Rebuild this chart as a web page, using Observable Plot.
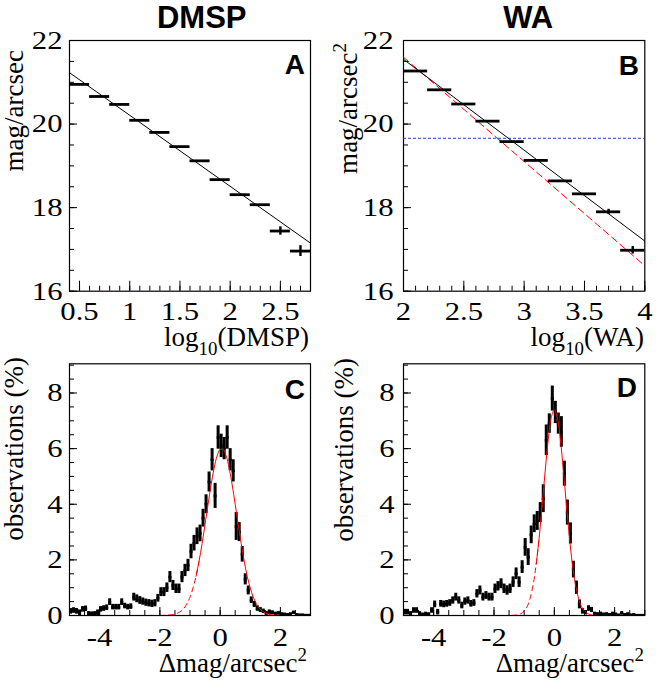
<!DOCTYPE html>
<html><head><meta charset="utf-8">
<script src="https://cdn.jsdelivr.net/npm/d3@7"></script>
<script src="https://cdn.jsdelivr.net/npm/@observablehq/plot@0.6"></script>
<style>
body{margin:0;background:#fff;}
#root{position:relative;width:658px;height:681px;overflow:hidden;background:#fff;}
#root svg{position:absolute;}
</style></head>
<body><div id="root"></div>
<script>
// ---------- Panel titles and labels ----------
const columnTitles = ["DMSP", "WA"];
const panelLetters = ["A", "B", "C", "D"];

// ---------- Panel A: profile of mag/arcsec^2 vs log10(DMSP) ----------
const binLowA = [0.4, 0.6, 0.8, 1.0, 1.2, 1.4, 1.6, 1.8, 2.0, 2.2, 2.4, 2.6];
const binWidthA = 0.2;
const magA = [20.95, 20.66, 20.47, 20.09, 19.80, 19.46, 19.12, 18.67, 18.31, 18.07, 17.44, 16.96];
const errA = [0, 0, 0, 0, 0, 0, 0, 0, 0, 0, 0.10, 0.13];
const fitAx = [0.4, 2.8];
const fitAy = [21.23, 17.15];

// ---------- Panel B: profile of mag/arcsec^2 vs log10(WA) ----------
const binLowB = [2.0, 2.2, 2.4, 2.6, 2.8, 3.0, 3.2, 3.4, 3.6, 3.8];
const binWidthB = 0.2;
const magB = [21.27, 20.82, 20.48, 20.07, 19.58, 19.13, 18.64, 18.33, 17.90, 16.98];
const errB = [0, 0, 0, 0, 0, 0, 0, 0, 0.06, 0.09];
const fitBx = [2, 4];
const fitBy = [21.55, 17.20];
const redFitBx = [2, 4];
const redFitBy = [21.60, 16.61];
const blueLevelB = 19.66;

// ---------- Panels C, D: residual histograms (%) ----------
const histStart = -5;
const histBinWidth = 0.1;
const obsC = [0.15,0.18,0.15,0.1,0.22,0.24,0.06,0.05,0.06,0.1,
  0.22,0.25,0.28,0.48,0.3,0.3,0.3,0.48,0.34,0.3,
  0.32,0.66,0.6,0.54,0.5,0.46,0.44,0.42,0.44,0.62,
  0.84,0.84,1.0,1.38,1.08,0.96,0.96,1.38,1.62,1.8,
  2.3,2.6,2.85,2.95,3.5,4.0,4.8,5.6,4.3,6.4,
  6.1,6.0,6.4,5.6,5.2,3.2,3.0,2.2,1.3,0.9,
  0.55,0.4,0.25,0.2,0.15,0.08,0.12,0.1,0.06,0.08,
  0.05,0.04,0.03,0.05,0.1,0.03,0.02,0.02,0.01,0.01];
const errC = [0.1,0.1,0.1,0.1,0.1,0.1,0.08,0.08,0.08,0.1,
  0.1,0.1,0.1,0.12,0.1,0.1,0.1,0.12,0.1,0.1,
  0.1,0.14,0.14,0.14,0.13,0.13,0.13,0.13,0.13,0.14,
  0.16,0.16,0.17,0.2,0.18,0.17,0.17,0.2,0.22,0.22,
  0.26,0.28,0.3,0.3,0.32,0.34,0.36,0.4,0.45,0.42,
  0.42,0.4,0.42,0.4,0.4,0.5,0.34,0.28,0.2,0.16,
  0.12,0.11,0.1,0.09,0.08,0.07,0.08,0.07,0.06,0.06,
  0.05,0.05,0.04,0.05,0.06,0.04,0.03,0.03,0.03,0.03];
const obsD = [0.12,0.12,0.06,0.18,0.18,0.06,0.03,0.05,0.04,0.18,
  0.4,0.12,0.42,0.4,0.42,0.45,0.54,0.66,0.54,0.36,
  0.5,0.54,0.42,0.45,0.78,0.9,0.66,0.72,0.66,0.66,
  0.96,1.05,1.14,0.96,0.9,0.96,1.2,1.5,1.2,1.74,
  2.45,2.1,2.9,3.3,3.4,3.7,4.2,6.3,6.9,7.8,
  7.3,6.9,6.6,5.1,3.7,2.95,1.65,1.0,0.4,0.15,
  0.1,0.25,0.2,0.06,0.05,0.06,0.04,0.05,0.03,0.06,
  0.04,0.02,0.08,0.03,0.05,0.02,0.03,0.01,0.01,0.01];
const errD = [0.1,0.1,0.08,0.1,0.1,0.08,0.06,0.07,0.06,0.1,
  0.12,0.1,0.12,0.12,0.12,0.12,0.13,0.14,0.13,0.12,
  0.13,0.13,0.12,0.12,0.15,0.16,0.14,0.14,0.14,0.14,
  0.17,0.17,0.18,0.17,0.17,0.17,0.19,0.21,0.19,0.23,
  0.32,0.3,0.32,0.32,0.34,0.36,0.5,0.55,0.35,0.45,
  0.4,0.38,0.55,0.45,0.45,0.38,0.3,0.24,0.16,0.1,
  0.08,0.1,0.09,0.06,0.05,0.06,0.05,0.05,0.04,0.06,
  0.05,0.03,0.06,0.04,0.05,0.03,0.04,0.03,0.03,0.03];

// red Gaussian fit curves
const gaussCx = [-5,-2.4,-2.0,-1.8,-1.6,-1.5,-1.4,-1.3,-1.2,-1.1,-1.0,-0.9,-0.8,-0.7,-0.6,-0.5,-0.4,-0.3,-0.2,-0.1,0.0,0.1,0.2,0.3,0.4,0.5,0.6,0.7,0.8,0.9,1.0,1.1,1.2,1.3,1.4,1.5,1.6,1.8,2.0,3.0];
const gaussCy = [0,0,0.0,0.01,0.03,0.05,0.09,0.16,0.26,0.43,0.66,0.99,1.41,1.95,2.58,3.28,4.00,4.70,5.30,5.74,5.97,5.97,5.74,5.30,4.70,4.00,3.28,2.58,1.95,1.41,0.99,0.66,0.43,0.26,0.16,0.09,0.05,0.01,0,0];
const gaussCdashedUntil = -0.65;
const gaussDx = [-5,-2.0,-1.5,-1.3,-1.2,-1.1,-1.0,-0.9,-0.8,-0.7,-0.6,-0.5,-0.4,-0.3,-0.2,-0.1,0.0,0.1,0.2,0.3,0.4,0.5,0.6,0.7,0.8,0.9,1.0,1.1,1.2,1.3,1.5,2.0,3.0];
const gaussDy = [0,0,0.0,0.01,0.03,0.07,0.16,0.32,0.63,1.12,1.84,2.82,3.99,5.23,6.34,7.12,7.40,7.12,6.34,5.23,3.99,2.82,1.84,1.12,0.63,0.32,0.16,0.07,0.03,0.01,0,0,0];
const gaussDdashedUntil = -0.45;

// ---------- Axis ticks ----------
const xMajorA = [0.5, 1, 1.5, 2, 2.5];
const xMinorA = d3.range(4, 29).map(d => d / 10);
const xMajorB = [2, 2.5, 3, 3.5, 4];
const xMinorB = d3.range(20, 41).map(d => d / 10);
const yMajorAB = [16, 18, 20, 22];
const yMinorAB = d3.range(32, 45).map(d => d / 2);
const xMajorCD = [-4, -2, 0, 2];
const xMinorCD = d3.range(-10, 7).map(d => d / 2);
const yMajorCD = [0, 2, 4, 6, 8];
const yMinorCD = d3.range(0, 19).map(d => d / 2);

// ---------- fonts ----------
const SERIF = "'Liberation Serif','Tinos','DejaVu Serif','Times New Roman',Times,serif";
const SANS = "'Liberation Sans',Arimo,Arial,'DejaVu Sans',sans-serif";

// ---------- helpers ----------
const root = document.getElementById("root");
const hyphenFmt = d => String(d).replace("\u2212", "-");

function profileRows(lows, width, vals, errs) {
  return lows.map((x0, i) => ({x0, x1: x0 + width, xc: x0 + width / 2, y: vals[i], e: errs[i]}));
}
function histRows(vals, errs) {
  return vals.map((v, i) => ({x0: histStart + i * histBinWidth, x1: histStart + (i + 1) * histBinWidth, v, lo: v - errs[i], hi: v + errs[i]}));
}
function curveRows(xs, ys) { return xs.map((x, i) => ({x, y: ys[i]})); }

function panel(cfg) {
  const svg = Plot.plot({
    width: 329, height: cfg.h,
    marginLeft: cfg.mL, marginRight: cfg.mR, marginTop: cfg.mT, marginBottom: cfg.mB,
    x: {domain: cfg.xDom, label: null},
    y: {domain: cfg.yDom, label: null},
    style: {fontFamily: SERIF, fontSize: "26px", background: "transparent", overflow: "visible", color: "black"},
    marks: [
      Plot.frame({stroke: "black", strokeWidth: 1.2}),
      ...cfg.marks,
      Plot.axisX(cfg.xMinor, {tickSize: -cfg.xMinLen, tickFormat: () => "", label: null}),
      Plot.axisX(cfg.xMajor, {tickSize: -cfg.xMajLen, tickFormat: () => "", label: null}),
      Plot.axisX(cfg.xMajor, {tickSize: 0, tickPadding: cfg.xPad, tickFormat: hyphenFmt, fontSize: 26, label: null}),
      Plot.axisY(cfg.yMinor, {tickSize: -5, tickFormat: () => "", label: null}),
      Plot.axisY(cfg.yMajor, {tickSize: -8, tickFormat: () => "", label: null}),
      Plot.axisY(cfg.yMajor, {tickSize: 0, tickPadding: cfg.yPad, tickFormat: hyphenFmt, fontSize: 26, label: null})
    ]
  });
  svg.style.left = cfg.left + "px";
  svg.style.top = cfg.top + "px";
  d3.select(svg).selectAll("text").attr("font-family", SERIF).style("font-family", SERIF);
  // widen the serif tick labels a little, like the original's font
  d3.select(svg).selectAll("g[aria-label$='tick label'] text").each(function () {
    const t = this.getAttribute("transform") || "";
    this.setAttribute("transform", t + " scale(1.18,1)");
  });
  root.appendChild(svg);
}

const profileMarks = (rows, fits) => [
  ...fits,
  Plot.ruleY(rows, {y: "y", x1: "x0", x2: "x1", stroke: "black", strokeWidth: 2.8}),
  Plot.ruleX(rows.filter(d => d.e > 0), {x: "xc", y1: d => d.y - d.e, y2: d => d.y + d.e, stroke: "black", strokeWidth: 2.4})
];

const histMarks = (rows, curve, dashUntil) => [
  Plot.rect(rows, {x1: "x0", x2: "x1", y1: "lo", y2: "hi", fill: "black", inset: 0, clip: true}),
  Plot.ruleY(rows, {y: "v", x1: "x0", x2: "x1", stroke: "black", strokeWidth: 2.6, clip: true}),
  Plot.line(curve.filter(d => d.x <= dashUntil), {x: "x", y: "y", stroke: "#ff0000", strokeWidth: 1, strokeDasharray: "5,4", curve: "catmull-rom", clip: true}),
  Plot.line(curve.filter(d => d.x >= dashUntil - 0.15), {x: "x", y: "y", stroke: "#ff0000", strokeWidth: 1, curve: "catmull-rom", clip: true})
];

// Panel A
panel({
  left: 0, top: 0, h: 350, mL: 69, mR: 19, mT: 40, mB: 59.3,
  xDom: [0.4, 2.8], yDom: [16, 22],
  xMajor: xMajorA, xMinor: xMinorA, yMajor: yMajorAB, yMinor: yMinorAB,
  xMajLen: 10, xMinLen: 5, xPad: 10, yPad: 7,
  marks: profileMarks(profileRows(binLowA, binWidthA, magA, errA), [
    Plot.line(curveRows(fitAx, fitAy), {x: "x", y: "y", stroke: "black", strokeWidth: 1})
  ])
});
// Panel B
panel({
  left: 329, top: 0, h: 350, mL: 74, mR: 13.7, mT: 40, mB: 59.3,
  xDom: [2, 4], yDom: [16, 22],
  xMajor: xMajorB, xMinor: xMinorB, yMajor: yMajorAB, yMinor: yMinorAB,
  xMajLen: 10, xMinLen: 5, xPad: 10, yPad: 10,
  marks: profileMarks(profileRows(binLowB, binWidthB, magB, errB), [
    Plot.ruleY([blueLevelB], {y: d => d, stroke: "#1f3fd0", strokeWidth: 1, strokeDasharray: "3,2"}),
    Plot.line(curveRows(redFitBx, redFitBy), {x: "x", y: "y", stroke: "#ff0000", strokeWidth: 1, strokeDasharray: "7,4"}),
    Plot.line(curveRows(fitBx, fitBy), {x: "x", y: "y", stroke: "black", strokeWidth: 1})
  ])
});
// Panel C
panel({
  left: 0, top: 350, h: 331, mL: 69, mR: 19, mT: 13.3, mB: 66,
  xDom: [-5, 3], yDom: [0, 9.05],
  xMajor: xMajorCD, xMinor: xMinorCD, yMajor: yMajorCD, yMinor: yMinorCD,
  xMajLen: 8, xMinLen: 5, xPad: 12, yPad: 7,
  marks: histMarks(histRows(obsC, errC), curveRows(gaussCx, gaussCy), gaussCdashedUntil)
});
// Panel D
panel({
  left: 329, top: 350, h: 331, mL: 74, mR: 13.7, mT: 13.3, mB: 66,
  xDom: [-5, 3], yDom: [0, 9.05],
  xMajor: xMajorCD, xMinor: xMinorCD, yMajor: yMajorCD, yMinor: yMinorCD,
  xMajLen: 8, xMinLen: 5, xPad: 12, yPad: 9,
  marks: histMarks(histRows(obsD, errD), curveRows(gaussDx, gaussDy), gaussDdashedUntil)
});

// ---------- overlay text (titles, axis titles, panel letters) ----------
const ov = d3.select(root).append("svg").attr("width", 658).attr("height", 681)
  .style("left", "0px").style("top", "0px");

function label(x, y, parts, {anchor = "end", rotate = 0, size = 27, sans = false, weight = "normal"} = {}) {
  const fam = sans ? SANS : SERIF;
  const t = ov.append("text")
    .attr("transform", `translate(${x},${y})` + (rotate ? ` rotate(${rotate})` : ""))
    .attr("text-anchor", anchor).attr("font-size", size).attr("font-family", fam).style("font-family", fam)
    .attr("font-weight", weight).attr("fill", "black");
  let shift = 0;
  for (const p of parts) {
    const s = typeof p === "string" ? {t: p} : p;
    const target = s.sub ? 0.32 * size : s.sup ? -0.42 * size : 0;
    t.append("tspan").attr("dy", target - shift).attr("font-size", (s.sub || s.sup) ? 0.7 * size : size).text(s.t);
    shift = target;
  }
  return t;
}

label(201.7, 28.3, [columnTitles[0]], {anchor: "middle", size: 31, sans: true, weight: "bold"});
label(528.2, 28.3, [columnTitles[1]], {anchor: "middle", size: 31, sans: true, weight: "bold"});

const letterPos = [[305, 74], [639, 75], [305, 399], [637, 397]];
panelLetters.forEach((L, i) => label(letterPos[i][0], letterPos[i][1], [L], {size: 28, sans: true, weight: "bold"}));

label(309, 346, ["log", {t: "10", sub: true}, "(DMSP)"]);
label(644, 346, ["log", {t: "10", sub: true}, "(WA)"]);
label(307, 672, ["\u0394mag/arcsec", {t: "2", sup: true}]);
label(644, 672, ["\u0394mag/arcsec", {t: "2", sup: true}]);

label(23, 50, ["mag/arcsec"], {rotate: -90});
label(357, 43, ["mag/arcsec", {t: "2", sup: true}], {rotate: -90});
label(23, 357, ["observations (%)"], {rotate: -90});
label(353, 358, ["observations (%)"], {rotate: -90});
</script>
</body></html>
